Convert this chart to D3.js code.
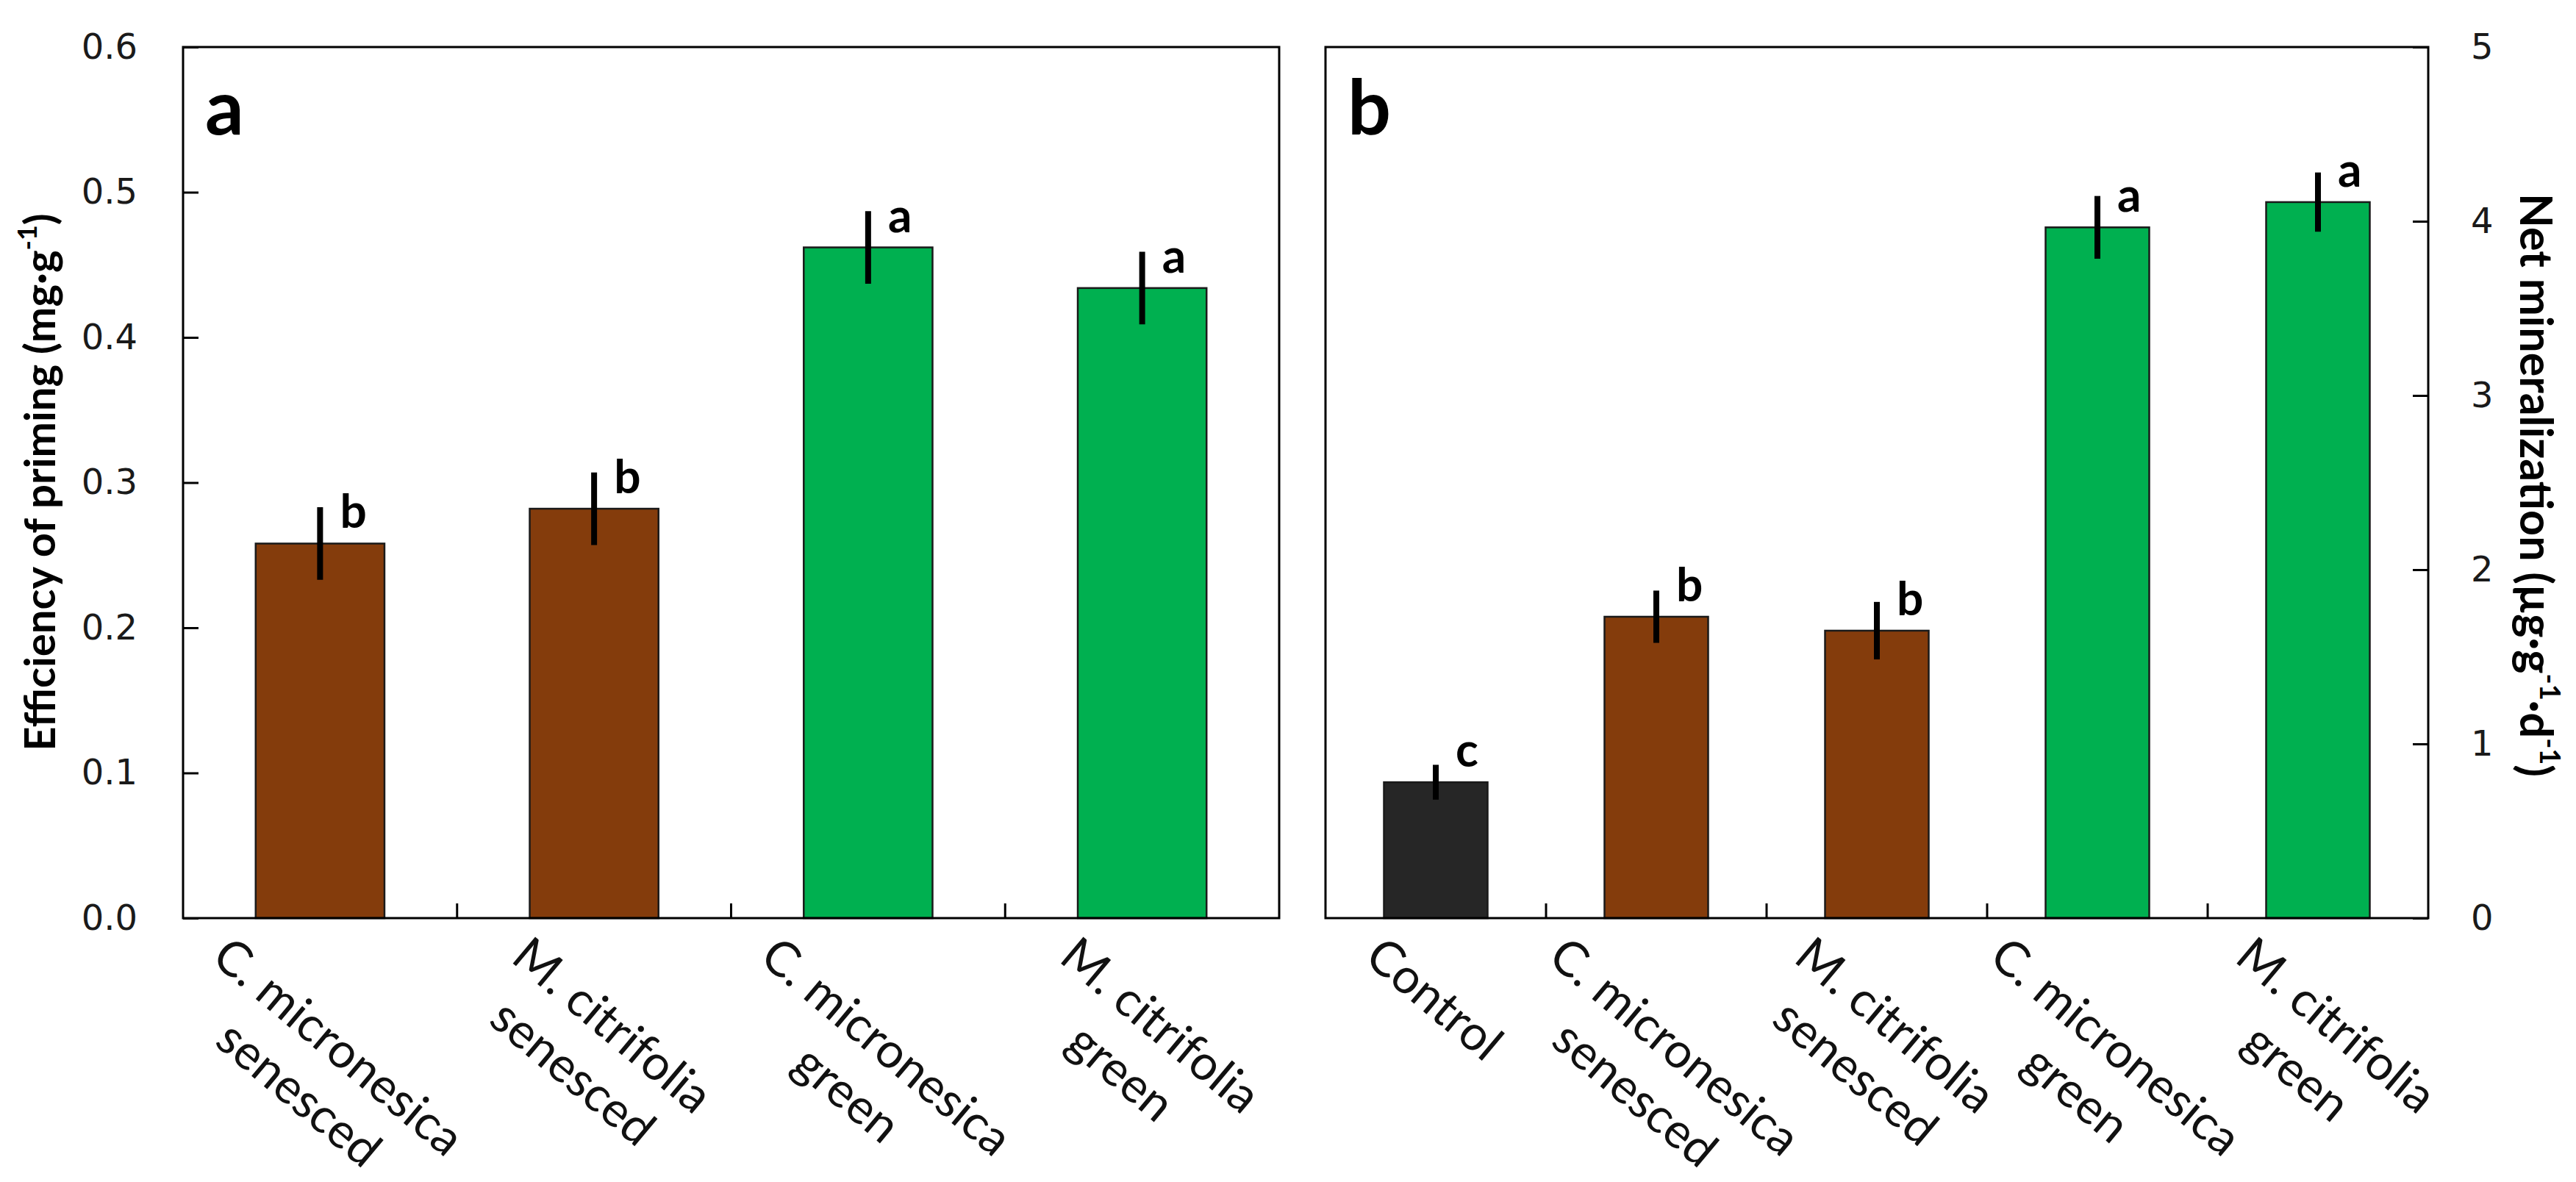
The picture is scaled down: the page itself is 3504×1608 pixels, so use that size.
<!DOCTYPE html>
<html>
<head>
<meta charset="utf-8">
<script src="https://cdn.jsdelivr.net/npm/d3@7"></script>
<style>
  body { margin: 0; background: #fff; }
</style>
</head>
<body>
<div class="chart"></div>
<script>
// panel a: efficiency of priming
const catsA = [["C. micronesica", "senesced"], ["M. citrifolia", "senesced"], ["C. micronesica", "green"], ["M. citrifolia", "green"]];
const valuesA = [0.258, 0.282, 0.462, 0.434];
const errA = [0.025, 0.025, 0.025, 0.025];
const lettersA = ["b", "b", "a", "a"];
const colorsA = ["#843C0C", "#843C0C", "#00B050", "#00B050"];
const ticksA = [0, 0.1, 0.2, 0.3, 0.4, 0.5, 0.6];

// panel b: net mineralization
const catsB = [["Control"], ["C. micronesica", "senesced"], ["M. citrifolia", "senesced"], ["C. micronesica", "green"], ["M. citrifolia", "green"]];
const valuesB = [0.78, 1.73, 1.65, 3.965, 4.11];
const errB = [0.10, 0.15, 0.165, 0.18, 0.17];
const lettersB = ["c", "b", "b", "a", "a"];
const colorsB = ["#262626", "#843C0C", "#843C0C", "#00B050", "#00B050"];
const ticksB = [0, 1, 2, 3, 4, 5];

const width = 3504;
const height = 1608;
const plotTop = 64, plotBottom = 1249;

const svg = d3.select('.chart')
    .append('svg')
    .attr('width', width)
    .attr('height', height)
    .style('background', '#fff');

function panel(cfg){
    const g = svg.append('g');
    const x = d3.scaleBand()
        .domain(d3.range(cfg.values.length))
        .range([cfg.x0, cfg.x1])
        .paddingInner(0.53)
        .paddingOuter(0.265);
    const y = d3.scaleLinear().domain(cfg.domain).range([plotBottom, plotTop]);

    // bars
    g.selectAll('rect.bar')
        .data(cfg.values)
        .enter()
        .append('rect')
        .attr('class', 'bar')
        .attr('x', (d, i) => x(i))
        .attr('y', d => y(d))
        .attr('width', x.bandwidth())
        .attr('height', d => y(0) - y(d))
        .attr('fill', (d, i) => cfg.colors[i])
        .attr('stroke', '#1a1a1a')
        .attr('stroke-width', 2.5);

    // error bars
    g.selectAll('line.err')
        .data(cfg.values)
        .enter()
        .append('line')
        .attr('x1', (d, i) => x(i) + x.bandwidth() / 2)
        .attr('x2', (d, i) => x(i) + x.bandwidth() / 2)
        .attr('y1', (d, i) => y(d + cfg.err[i]))
        .attr('y2', (d, i) => y(d - cfg.err[i]))
        .attr('stroke', '#000')
        .attr('stroke-width', 8);

    // significance letters
    g.selectAll('text.sig')
        .data(cfg.values)
        .enter()
        .append('text')
        .text((d, i) => cfg.letters[i])
        .attr('x', (d, i) => x(i) + x.bandwidth() / 2 + 27)
        .attr('y', d => y(d) - 21)
        .attr('font-family', 'Lato')
        .attr('font-weight', 'bold')
        .attr('font-size', 64);

    // y axis
    const axis = cfg.right ? d3.axisRight(y) : d3.axisLeft(y);
    axis.tickValues(cfg.ticks)
        .tickSizeInner(-21)
        .tickSizeOuter(0)
        .tickPadding(cfg.right ? 58 : 62)
        .tickFormat(cfg.format);
    const ax = g.append('g')
        .attr('transform', 'translate(' + (cfg.right ? cfg.x1 : cfg.x0) + ',0)')
        .call(axis);
    ax.select('.domain').remove();
    ax.selectAll('line').attr('stroke', '#000').attr('stroke-width', 3);
    ax.selectAll('text')
        .attr('font-family', 'DejaVu Sans')
        .attr('font-size', 48)
        .attr('fill', '#1a1a1a');

    // category separator ticks
    const step = x.step();
    g.selectAll('line.cat')
        .data(d3.range(1, cfg.values.length))
        .enter()
        .append('line')
        .attr('x1', i => cfg.x0 + i * step)
        .attr('x2', i => cfg.x0 + i * step)
        .attr('y1', plotBottom)
        .attr('y2', plotBottom - 20)
        .attr('stroke', '#000')
        .attr('stroke-width', 3);

    // frame
    g.append('rect')
        .attr('x', cfg.x0)
        .attr('y', plotTop)
        .attr('width', cfg.x1 - cfg.x0)
        .attr('height', plotBottom - plotTop)
        .attr('fill', 'none')
        .attr('stroke', '#000')
        .attr('stroke-width', 3);

    // panel letter
    g.append('text')
        .text(cfg.name)
        .attr('x', cfg.x0 + 30)
        .attr('y', 183)
        .attr('font-family', 'Lato')
        .attr('font-weight', 'bold')
        .attr('font-size', 104);

    // rotated category labels, bbox centred on the category
    const angle = 40;
    const rad = angle * Math.PI / 180;
    cfg.cats.forEach((lines, i) => {
        const lg = g.append('g');
        lines.forEach((t, j) => {
            lg.append('text')
                .text(t)
                .attr('x', 0)
                .attr('y', j * 84)
                .attr('text-anchor', 'middle')
                .attr('font-family', 'Lato')
                .attr('font-size', 66)
                .attr('fill', '#111');
        });
        const b = lg.node().getBBox();
        const corners = [[b.x, b.y], [b.x + b.width, b.y], [b.x, b.y + b.height], [b.x + b.width, b.y + b.height]]
            .map(p => [p[0] * Math.cos(rad) - p[1] * Math.sin(rad), p[0] * Math.sin(rad) + p[1] * Math.cos(rad)]);
        const minX = d3.min(corners, p => p[0]), maxX = d3.max(corners, p => p[0]);
        const minY = d3.min(corners, p => p[1]);
        const cx = x(i) + x.bandwidth() / 2;
        const tx = cx - (minX + maxX) / 2;
        const ty = plotBottom + 8 - minY;
        lg.attr('transform', 'translate(' + tx + ',' + ty + ') rotate(' + angle + ')');
    });
}

panel({x0: 249, x1: 1740, domain: [0, 0.6], values: valuesA, err: errA, letters: lettersA,
       colors: colorsA, ticks: ticksA, cats: catsA, format: d3.format('.1f'), right: false, name: 'a'});
panel({x0: 1803, x1: 3303, domain: [0, 5], values: valuesB, err: errB, letters: lettersB,
       colors: colorsB, ticks: ticksB, cats: catsB, format: d3.format('d'), right: true, name: 'b'});

// axis titles
const titleA = svg.append('text')
    .attr('transform', 'translate(75,656) rotate(-90)')
    .attr('text-anchor', 'middle')
    .attr('font-family', 'Lato')
    .attr('font-weight', 'bold')
    .attr('font-size', 58);
titleA.append('tspan').text('Efficiency of priming (mg·g');
titleA.append('tspan').text('-1').attr('font-size', 36).attr('baseline-shift', '70%');
titleA.append('tspan').text(')');

const titleB = svg.append('text')
    .attr('transform', 'translate(3428,660) rotate(90)')
    .attr('text-anchor', 'middle')
    .attr('font-family', 'Lato')
    .attr('font-weight', 'bold')
    .attr('font-size', 61);
titleB.append('tspan').text('Net mineralization (µg·g');
titleB.append('tspan').text('-1').attr('font-size', 38).attr('baseline-shift', '70%');
titleB.append('tspan').text('·d');
titleB.append('tspan').text('-1').attr('font-size', 38).attr('baseline-shift', '70%');
titleB.append('tspan').text(')');
</script>
</body>
</html>
